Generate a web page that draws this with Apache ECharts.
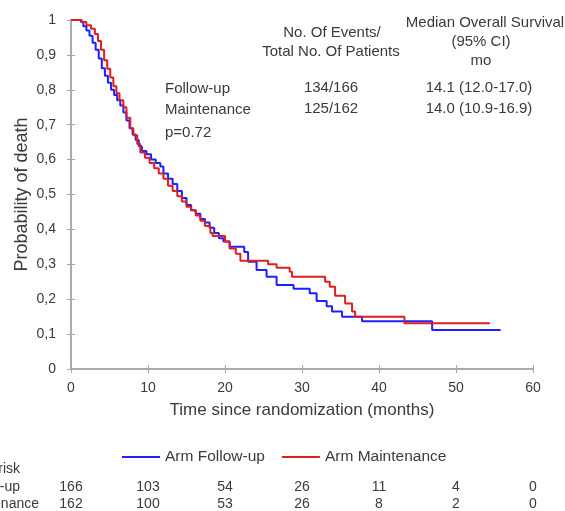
<!DOCTYPE html>
<html>
<head>
<meta charset="utf-8">
<script src="https://cdn.jsdelivr.net/npm/echarts@6/dist/echarts.min.js"></script>
<style>
    html, body { margin: 0; padding: 0; background: #fff; }
    #chart { width: 565px; height: 511px; }
</style>
</head>
<body>
<div id="chart"></div>
<script>
// Kaplan-Meier steps (months, survival)
const followTimes = [0, 1.3, 1.6, 2.0, 2.4, 2.8, 3.2, 3.6, 4.0, 4.4, 4.8, 5.2, 5.6, 6.0, 6.4, 6.8, 7.2, 7.6, 8.0, 8.4, 8.8, 9.2, 9.8, 10.4, 11.0, 11.6, 12.0, 12.6, 13.2, 13.8, 14.4, 15.0, 15.6, 16.2, 16.8, 17.4, 18.0, 18.6, 19.2, 19.8, 20.6, 22.5, 23.0, 24.1, 25.4, 26.7, 28.9, 31.0, 31.9, 33.2, 33.9, 35.2, 37.8, 46.9, 55.8];
const followSurv  = [1, 0.994, 0.982, 0.97, 0.955, 0.935, 0.915, 0.89, 0.862, 0.84, 0.82, 0.80, 0.785, 0.77, 0.755, 0.735, 0.712, 0.69, 0.672, 0.656, 0.638, 0.625, 0.615, 0.60, 0.59, 0.58, 0.56, 0.545, 0.53, 0.51, 0.49, 0.47, 0.455, 0.445, 0.43, 0.42, 0.405, 0.39, 0.375, 0.365, 0.35, 0.335, 0.307, 0.284, 0.264, 0.241, 0.23, 0.217, 0.195, 0.18, 0.165, 0.15, 0.137, 0.112, 0.112];

const maintTimes = [0, 1.4, 2.0, 2.6, 3.1, 3.5, 3.9, 4.3, 4.7, 5.1, 5.5, 5.9, 6.3, 6.8, 7.2, 7.7, 8.1, 8.6, 9.0, 9.6, 10.2, 10.8, 11.4, 12.0, 12.6, 13.2, 13.8, 14.4, 15.0, 15.6, 16.2, 16.8, 17.4, 18.1, 18.4, 20.0, 20.6, 21.4, 22.0, 25.6, 26.7, 28.4, 28.7, 33.0, 33.6, 34.3, 35.6, 36.5, 36.9, 43.3, 54.4];
const maintSurv  = [1, 0.994, 0.985, 0.975, 0.96, 0.94, 0.915, 0.885, 0.86, 0.835, 0.81, 0.79, 0.77, 0.75, 0.72, 0.69, 0.67, 0.645, 0.62, 0.605, 0.59, 0.575, 0.56, 0.545, 0.525, 0.51, 0.495, 0.48, 0.465, 0.455, 0.44, 0.425, 0.41, 0.39, 0.381, 0.365, 0.345, 0.33, 0.31, 0.30, 0.29, 0.279, 0.264, 0.25, 0.236, 0.21, 0.188, 0.165, 0.15, 0.131, 0.131];

const seriesNames = ['Arm Follow-up', 'Arm Maintenance'];
const armLabels = ['Follow-up', 'Maintenance'];
const eventsText = ['134/166', '125/162'];
const medianText = ['14.1 (12.0-17.0)', '14.0 (10.9-16.9)'];
const pValueText = 'p=0.72';

// numbers at risk, one column per x tick (0, 10, ... 60 months)
const riskMonths = [0, 10, 20, 30, 40, 50, 60];
const riskRowLabels = ['No. at risk', 'Follow-up', 'Maintenance'];
const riskFollow = [166, 103, 54, 26, 11, 4, 0];
const riskMaint = [162, 100, 53, 26, 8, 2, 0];

const FONT = '"Liberation Sans", Arial, sans-serif';
const TXT = '#3a3a3a';
const AXIS = '#a6a6a6';
const BLUE = '#2020ff';
const RED = '#de1f1f';

const pairs = (xs, ys) => xs.map((x, i) => [x, ys[i]]);

const txt = (text, x, y, align, size) => ({
    type: 'text',
    x: x,
    y: y,
    style: {
        text: text,
        fill: TXT,
        font: (size || 15) + 'px ' + FONT,
        textAlign: align || 'left',
        textVerticalAlign: 'middle'
    }
});

const yLabel = v => (v === 0 || v === 1) ? String(v) : v.toFixed(1).replace('.', ',');

const baseX = {
    type: 'value',
    min: 0,
    max: 60,
    interval: 10,
    position: 'bottom',
    splitLine: { show: false },
    axisLine: { onZero: false, lineStyle: { color: AXIS, width: 1.5 } }
};
const baseY = {
    type: 'value',
    min: 0,
    max: 1,
    interval: 0.1,
    position: 'left',
    splitLine: { show: false },
    axisLine: { onZero: false, lineStyle: { color: AXIS, width: 1.5 } }
};

const chart = echarts.init(document.getElementById('chart'));
chart.setOption({
    animation: false,
    textStyle: { fontFamily: FONT },
    grid: { left: 71, right: 32, top: 20, bottom: 142 },
    legend: {
        left: 117,
        top: 444,
        icon: 'rect',
        itemWidth: 38,
        itemHeight: 2,
        itemGap: 17,
        textStyle: { color: TXT, fontSize: 15.5, fontFamily: FONT },
        data: seriesNames
    },
    xAxis: [
        Object.assign({}, baseX, {
            name: 'Time since randomization (months)',
            nameLocation: 'middle',
            nameGap: 33,
            nameTextStyle: { color: TXT, fontSize: 17 },
            axisTick: { length: 4, lineStyle: { color: AXIS } },
            axisLabel: { color: TXT, fontSize: 14, margin: 12 }
        }),
        Object.assign({}, baseX, {
            axisTick: { inside: true, length: 4, lineStyle: { color: AXIS } },
            axisLabel: { show: false }
        })
    ],
    yAxis: [
        Object.assign({}, baseY, {
            name: 'Probability of death',
            nameLocation: 'middle',
            nameGap: 40,
            nameRotate: 90,
            nameMoveOverlap: false,
            nameTextStyle: { color: TXT, fontSize: 18 },
            axisTick: { length: 4, lineStyle: { color: AXIS } },
            axisLabel: { color: TXT, fontSize: 14, margin: 15, formatter: yLabel }
        }),
        Object.assign({}, baseY, {
            axisTick: { inside: true, length: 4, lineStyle: { color: AXIS } },
            axisLabel: { show: false }
        })
    ],
    series: [
        {
            name: seriesNames[0],
            type: 'line',
            step: 'end',
            symbol: 'none',
            data: pairs(followTimes, followSurv),
            lineStyle: { color: BLUE, width: 2 },
            itemStyle: { color: BLUE }
        },
        {
            name: seriesNames[1],
            type: 'line',
            step: 'end',
            symbol: 'none',
            data: pairs(maintTimes, maintSurv),
            lineStyle: { color: RED, width: 2 },
            itemStyle: { color: RED }
        }
    ]
});

// annotation block and the at-risk table below the legend
const graphics = [
    txt('No. Of Events/', 332, 33, 'center'),
    txt('Total No. Of Patients', 331, 52, 'center'),
    txt('Median Overall Survival', 485, 23, 'center'),
    txt('(95% CI)', 481, 42, 'center'),
    txt('mo', 481, 61, 'center'),
    txt(armLabels[0], 165, 89),
    txt(armLabels[1], 165, 110),
    txt(pValueText, 165, 133),
    txt(eventsText[0], 331, 88, 'center'),
    txt(eventsText[1], 331, 109, 'center'),
    txt(medianText[0], 479, 88, 'center'),
    txt(medianText[1], 479, 109, 'center'),
    // row labels run off the left edge, as in the original
    txt(riskRowLabels[0], 20, 469, 'right', 14),
    txt(riskRowLabels[1], 20, 487, 'right', 14),
    txt(riskRowLabels[2], 39, 504, 'right', 14)
];
riskMonths.forEach((m, i) => {
    const px = chart.convertToPixel({ xAxisIndex: 0 }, m);
    graphics.push(txt(String(riskFollow[i]), px, 487, 'center', 14));
    graphics.push(txt(String(riskMaint[i]), px, 504, 'center', 14));
});
chart.setOption({ graphic: graphics });
</script>
</body>
</html>
